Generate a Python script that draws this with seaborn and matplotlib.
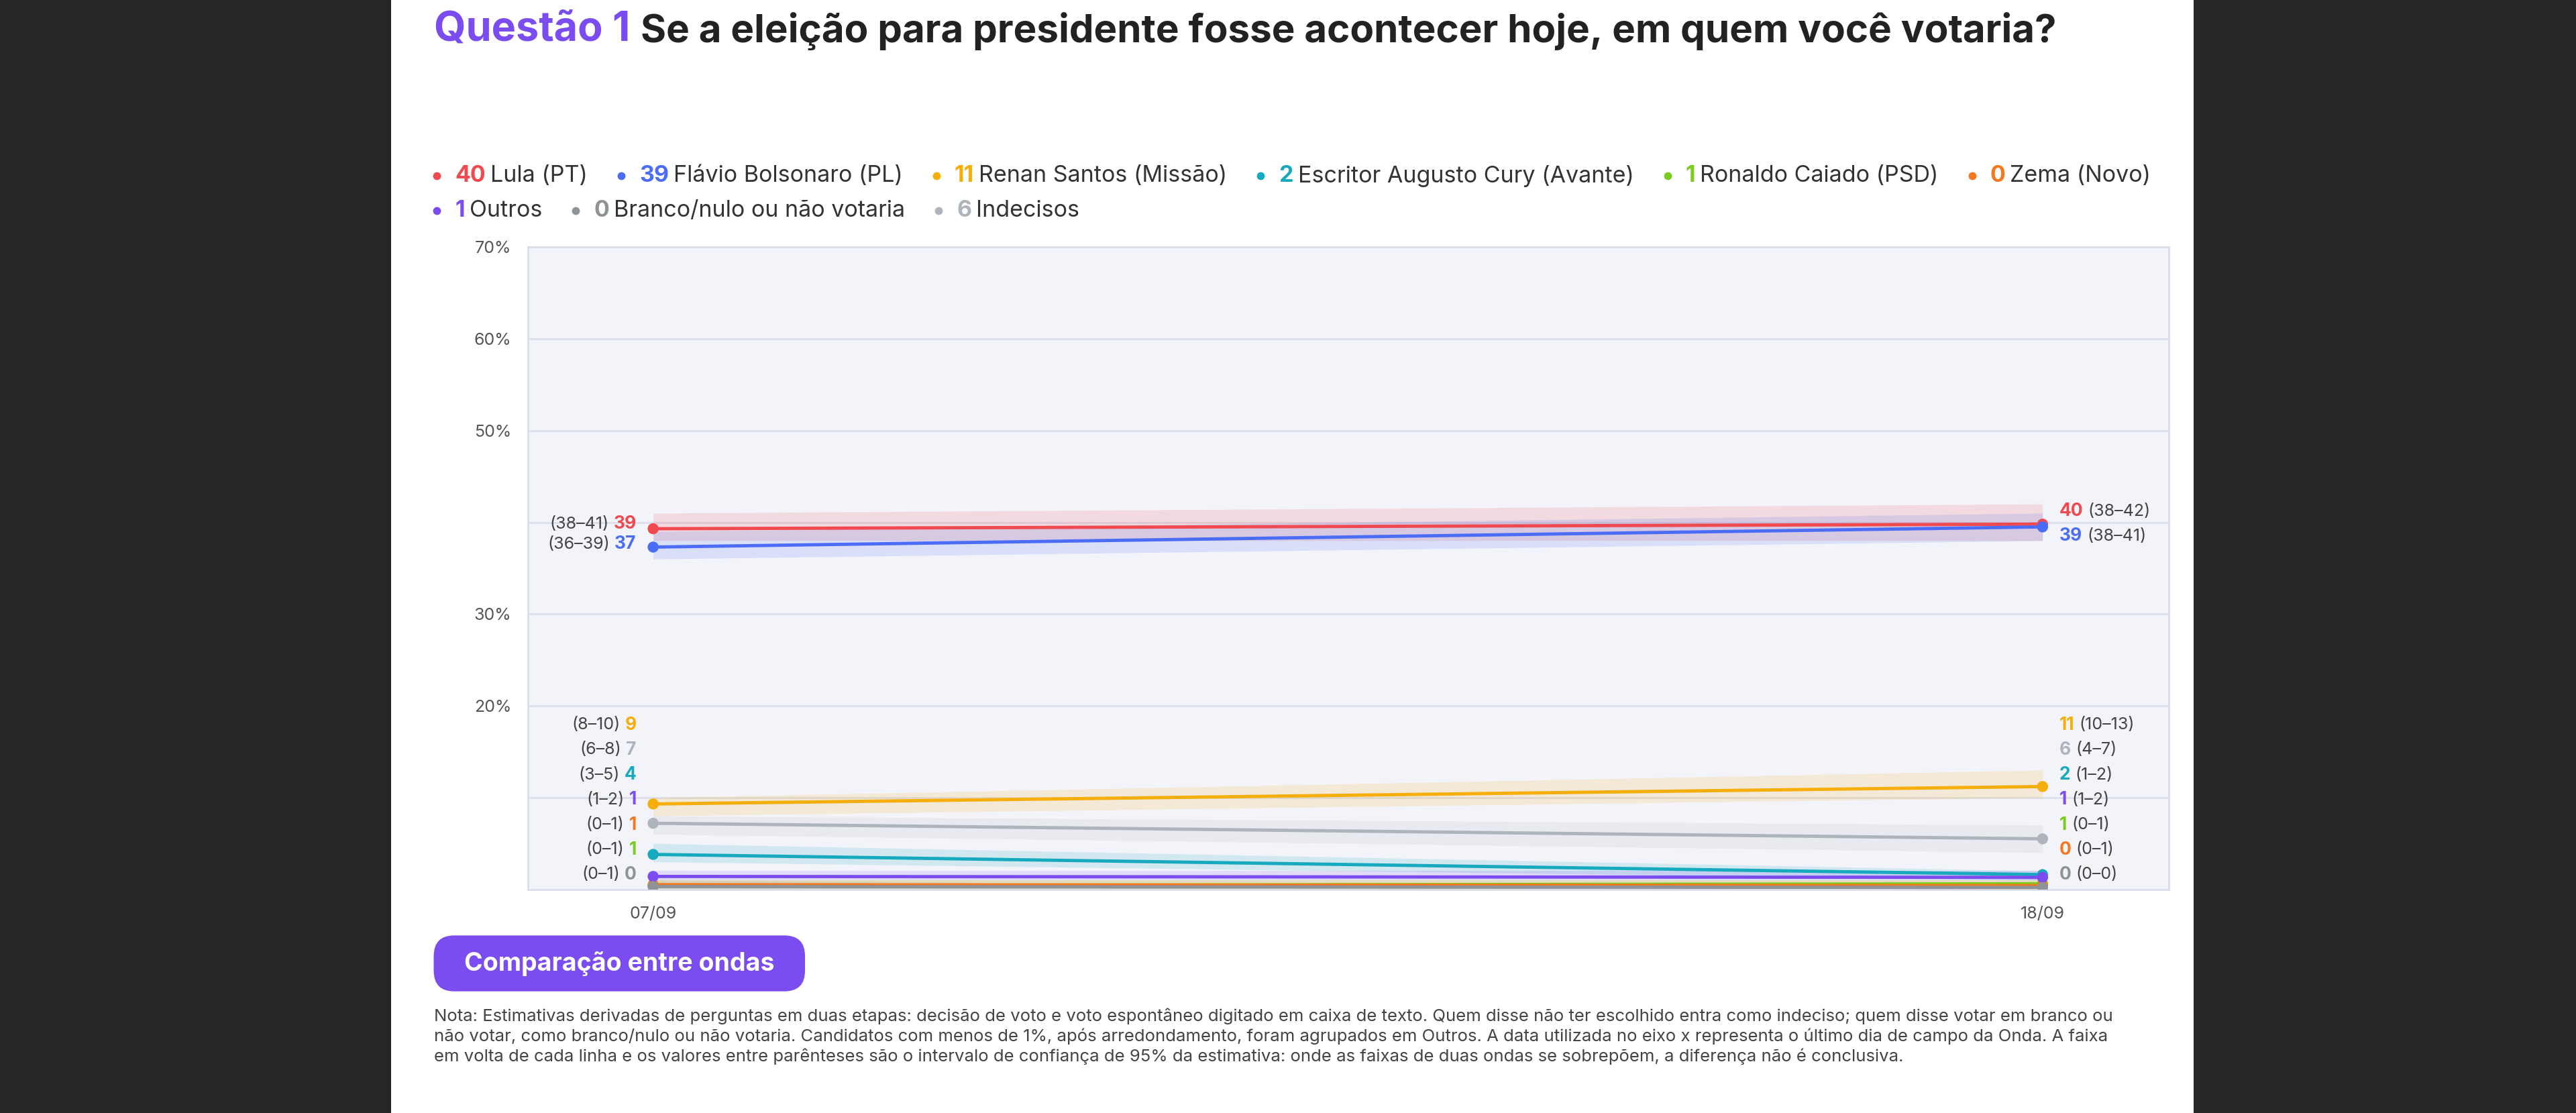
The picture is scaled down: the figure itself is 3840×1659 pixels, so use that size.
import matplotlib
matplotlib.use("Agg")
import matplotlib.pyplot as plt
import seaborn as sns
import pandas as pd
import numpy as np
from matplotlib.patches import FancyBboxPatch, Rectangle

sns.set_theme(style="white")
plt.rcParams['font.family'] = ['Inter', 'DejaVu Sans']

waves = ["07/09", "18/09"]
names = ["Lula (PT)", "Flávio Bolsonaro (PL)", "Renan Santos (Missão)",
         "Escritor Augusto Cury (Avante)", "Ronaldo Caiado (PSD)", "Zema (Novo)",
         "Outros", "Branco/nulo ou não votaria", "Indecisos"]
colors = ["#F0494F", "#4A6CF7", "#F5AE0A", "#17A9BD", "#7ACC1F", "#F5771F",
          "#7B4DF0", "#8E9398", "#AEB4BB"]
# plotted estimates (unrounded)
est_first = [39.3, 37.3, 9.3, 3.8, 0.4, 0.5, 1.4, 0.3, 7.2]
est_last = [39.8, 39.5, 11.2, 1.6, 0.6, 0.4, 1.3, 0.2, 5.5]
lo_first = [38, 36, 8, 3, 0, 0, 1, 0, 6]
hi_first = [41, 39, 10, 5, 1, 1, 2, 1, 8]
lo_last = [38, 38, 10, 1, 0, 0, 1, 0, 4]
hi_last = [42, 41, 13, 2, 1, 1, 2, 0, 7]
# rounded labels
lab_first = [39, 37, 9, 4, 1, 1, 1, 0, 7]
lab_last = [40, 39, 11, 2, 1, 0, 1, 0, 6]

rows = []
for i, n in enumerate(names):
    rows.append(dict(name=n, x=0, y=est_first[i], lo=lo_first[i], hi=hi_first[i]))
    rows.append(dict(name=n, x=1, y=est_last[i], lo=lo_last[i], hi=hi_last[i]))
df = pd.DataFrame(rows)

W, H = 3840, 1659
fig = plt.figure(figsize=(W/100, H/100), dpi=100)
fig.patch.set_facecolor("#262626")
fig.add_artist(Rectangle((583/W, 0), (3270-583)/W, 1, transform=fig.transFigure,
                         facecolor="white", edgecolor="none", zorder=0))

ax = fig.add_axes([0.205, 0.201, 0.637, 0.577])
ax.set_facecolor("#F3F4FA")
for s in ax.spines.values():
    s.set_color("#DCDEEA"); s.set_linewidth(2)

pal = dict(zip(names, colors))
for i, n in enumerate(names):
    d = df[df.name == n]
    ax.fill_between(d.x, d.lo, d.hi, color=colors[i], alpha=0.15, lw=0, zorder=1)
sns.lineplot(data=df, x="x", y="y", hue="name", palette=pal, hue_order=names,
             ax=ax, lw=3.5, legend=False, zorder=3, estimator=None)
sns.scatterplot(data=df, x="x", y="y", hue="name", palette=pal, hue_order=names,
                ax=ax, s=140, legend=False, zorder=4, edgecolor="none")

ax.set_xlim(-0.09, 1.091)
ax.set_ylim(0, 70)
ax.set_yticks([0, 10, 20, 30, 40, 50, 60, 70])
ax.set_yticklabels(["", "", "20%", "30%", "", "50%", "60%", "70%"])
ax.yaxis.grid(True, color="#DCDEEA", lw=2)
ax.set_xticks([0, 1]); ax.set_xticklabels(waves)
ax.tick_params(axis="both", length=0, labelsize=18, colors="#555555", pad=18)
ax.set_xlabel(""); ax.set_ylabel("")

gray = "#444444"
fig.canvas.draw()
r = fig.canvas.get_renderer()

def lbl(x, y, idx, val, ci, side):
    sgn = -1 if side == "L" else 1
    ha = "right" if side == "L" else "left"
    t = ax.annotate(str(val), (x, y), xytext=(sgn * 18, 0), textcoords="offset points",
                    ha=ha, va="center", fontsize=19, fontweight="bold", color=colors[idx])
    w = t.get_window_extent(r).width * 72 / 100
    ax.annotate(ci, (x, y), xytext=(sgn * (18 + w + 5), 0), textcoords="offset points",
                ha=ha, va="center", fontsize=18, color=gray)

def ci_s(a, b):
    return f"({a}–{b})"

lbl(0, 39.8, 0, lab_first[0], ci_s(lo_first[0], hi_first[0]), "L")
lbl(0, 37.6, 1, lab_first[1], ci_s(lo_first[1], hi_first[1]), "L")
lbl(1, 41.2, 0, lab_last[0], ci_s(lo_last[0], hi_last[0]), "R")
lbl(1, 38.5, 1, lab_last[1], ci_s(lo_last[1], hi_last[1]), "R")

left_order = [2, 8, 3, 6, 5, 4, 7]
right_order = [2, 8, 3, 6, 4, 5, 7]
for k, idx in enumerate(left_order):
    lbl(0, 17.9 - k * 2.72, idx, lab_first[idx], ci_s(lo_first[idx], hi_first[idx]), "L")
for k, idx in enumerate(right_order):
    lbl(1, 17.9 - k * 2.72, idx, lab_last[idx], ci_s(lo_last[idx], hi_last[idx]), "R")

# title
t1 = fig.text(264/1568, 1 - 18/677, "Questão 1", fontsize=44, fontweight="bold",
              color="#7B4DF0", va="center")
x2 = (t1.get_window_extent(r).x1 + 16) / W
fig.text(x2, 1 - 19/677, "Se a eleição para presidente fosse acontecer hoje, em quem você votaria?",
         fontsize=42, fontweight="bold", color="#222222", va="center")

# legend
rows_leg = [list(range(6)), [6, 7, 8]]
ys = [1 - 107/677, 1 - 128/677]
for row, y in zip(rows_leg, ys):
    x = 266 / 1568 * W
    for idx in row:
        fig.add_artist(plt.Line2D([x/W], [y], marker="o", ms=7.5, color=colors[idx],
                                  transform=fig.transFigure, lw=0))
        x += 27
        t = fig.text(x/W, y, str(lab_last[idx]), fontsize=24.5, fontweight="bold",
                     color=colors[idx], va="center")
        x += t.get_window_extent(r).width + 7
        t = fig.text(x/W, y, names[idx], fontsize=24.5, color="#333333", va="center")
        x += t.get_window_extent(r).width + 50

# button
bx, by, bw, bh = 264/1568, 1 - 603/677, 226/1568, 34/677
fig.add_artist(FancyBboxPatch((bx, by), bw, bh, boxstyle="round,pad=0,rounding_size=0.008",
                              transform=fig.transFigure, facecolor="#7B4DF0",
                              edgecolor="none", mutation_aspect=W/H))
fig.text(bx + bw/2, by + bh/2, "Comparação entre ondas", fontsize=27, fontweight="bold",
         color="white", ha="center", va="center")

note = ("Nota: Estimativas derivadas de perguntas em duas etapas: decisão de voto e voto espontâneo digitado em caixa de texto. Quem disse não ter escolhido entra como indeciso; quem disse votar em branco ou\n"
        "não votar, como branco/nulo ou não votaria. Candidatos com menos de 1%, após arredondamento, foram agrupados em Outros. A data utilizada no eixo x representa o último dia de campo da Onda. A faixa\n"
        "em volta de cada linha e os valores entre parênteses são o intervalo de confiança de 95% da estimativa: onde as faixas de duas ondas se sobrepõem, a diferença não é conclusiva.")
fig.text(264/1568, 1 - 613/677, note, fontsize=18.5, color="#444444", va="top", linespacing=1.3)

fig.savefig("out.png", dpi=100, facecolor=fig.get_facecolor())
